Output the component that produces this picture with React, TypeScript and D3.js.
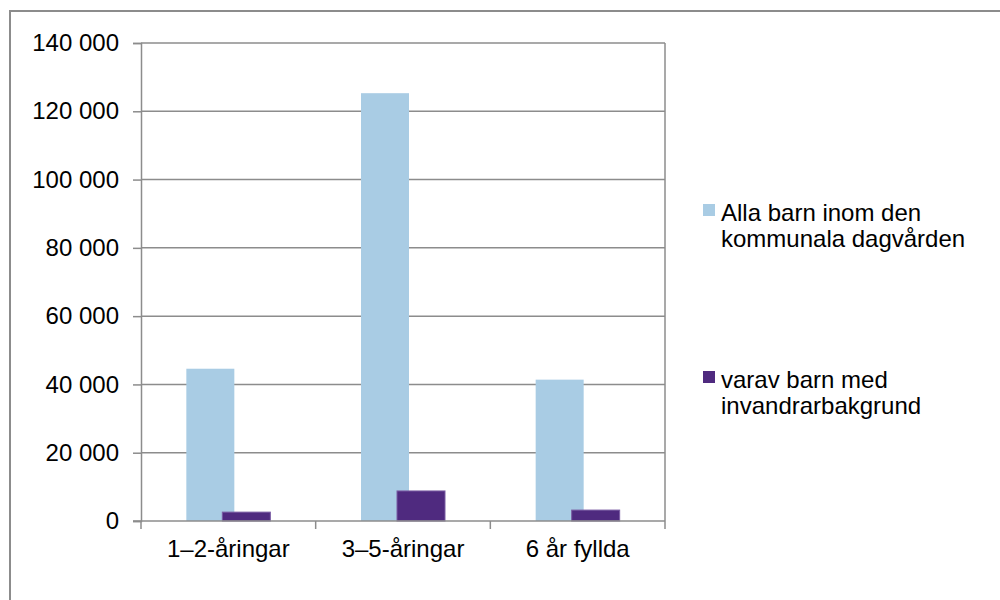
import { useEffect, useRef } from 'react';
import * as d3 from 'd3';

const CATEGORIES = ['1–2-åringar', '3–5-åringar', '6 år fyllda'];
const SERIES = ['Alla barn inom den kommunala dagvården', 'varav barn med invandrarbakgrund'];
const ALLA = [44600, 125300, 41400];
const VARAV = [2600, 8800, 3200];
const Y_TICKS = [0, 20000, 40000, 60000, 80000, 100000, 120000, 140000];
const LEGEND_LINES = [
  ['Alla barn inom den', 'kommunala dagvården'],
  ['varav barn med', 'invandrarbakgrund'],
];
const COLORS = ['#a9cce4', '#4f2a7f'];

export default function App() {
  const svgRef = useRef<SVGSVGElement | null>(null);

  useEffect(() => {
    const svg = d3.select(svgRef.current);
    svg.selectAll('*').remove();
    const W = 1000, H = 600;
    const M = { left: 141, right: 665, top: 43, bottom: 521 };
    const font = 'Liberation Sans, Arial, sans-serif';
    const fs = 24;

    // outer border
    svg.append('rect')
      .attr('x', 10).attr('y', 11).attr('width', 1000).attr('height', 600)
      .attr('fill', 'none').attr('stroke', '#8c8c8c').attr('stroke-width', 2);

    const y = d3.scaleLinear().domain([0, 140000]).range([M.bottom, M.top]);
    const x = d3.scaleBand().domain(CATEGORIES).range([M.left, M.right]).padding(0);

    // gridlines
    svg.append('g').selectAll('line')
      .data(Y_TICKS.filter(d => d > 0))
      .join('line')
      .attr('x1', M.left).attr('x2', M.right)
      .attr('y1', d => y(d)).attr('y2', d => y(d))
      .attr('stroke', '#8c8c8c').attr('stroke-width', 1.5);

    // right border of plot
    svg.append('line')
      .attr('x1', M.right).attr('x2', M.right).attr('y1', M.top).attr('y2', M.bottom)
      .attr('stroke', '#8c8c8c').attr('stroke-width', 1.5);

    // bars
    const bw = 48, off = 18;
    const data = [ALLA, VARAV];
    data.forEach((vals, si) => {
      svg.append('g').selectAll('rect')
        .data(vals)
        .join('rect')
        .attr('x', (d, i) => (x(CATEGORIES[i]) as number) + x.bandwidth() / 2 + (si === 0 ? -off : off) - bw / 2)
        .attr('y', d => y(d))
        .attr('width', bw)
        .attr('height', d => y(0) - y(d))
        .attr('fill', COLORS[si])
        .attr('stroke', si === 1 ? '#7a5ca3' : 'none')
        .attr('stroke-width', si === 1 ? 1 : 0);
    });

    // y axis
    const yAxis = d3.axisLeft(y).tickValues(Y_TICKS).tickSize(8).tickPadding(14)
      .tickFormat(d => d3.format(',')(d as number).replace(/,/g, ' '));
    svg.append('g')
      .attr('transform', `translate(${M.left},0)`)
      .call(yAxis)
      .call(g => g.select('.domain').attr('stroke', '#8c8c8c').attr('stroke-width', 1.5))
      .call(g => g.selectAll('.tick line').attr('stroke', '#8c8c8c').attr('stroke-width', 1.5))
      .call(g => g.selectAll('.tick text').attr('fill', '#000').attr('font-size', fs).attr('font-family', font));

    // x axis
    const xTicks = d3.axisBottom(x).tickSize(0).tickPadding(19);
    const gx = svg.append('g')
      .attr('transform', `translate(0,${M.bottom})`)
      .call(xTicks)
      .call(g => g.select('.domain').remove())
      .call(g => g.selectAll('.tick text').attr('fill', '#000').attr('font-size', fs).attr('font-family', font));
    gx.append('line')
      .attr('x1', M.left - 8).attr('x2', M.right).attr('y1', 0).attr('y2', 0)
      .attr('stroke', '#8c8c8c').attr('stroke-width', 1.5);
    gx.selectAll('.sep')
      .data([...CATEGORIES.map(c => x(c) as number), M.right])
      .join('line')
      .attr('class', 'sep')
      .attr('x1', d => d).attr('x2', d => d).attr('y1', 0).attr('y2', 8)
      .attr('stroke', '#8c8c8c').attr('stroke-width', 1.5);

    // legend
    const legendY = [204, 371];
    SERIES.forEach((s, i) => {
      const g = svg.append('g').attr('transform', `translate(703,${legendY[i]})`);
      g.append('rect').attr('width', 12).attr('height', 12).attr('fill', COLORS[i]);
      LEGEND_LINES[i].forEach((line, j) => {
        g.append('text')
          .attr('x', 18).attr('y', 17 + j * 26)
          .attr('font-size', fs).attr('font-family', font).attr('fill', '#000')
          .text(line);
      });
    });

    svg.attr('width', W).attr('height', H);
  }, []);

  return (
    <svg ref={svgRef} width={1000} height={600}
      style={{ position: 'absolute', left: 0, top: 0, display: 'block', background: '#fff' }} />
  );
}
